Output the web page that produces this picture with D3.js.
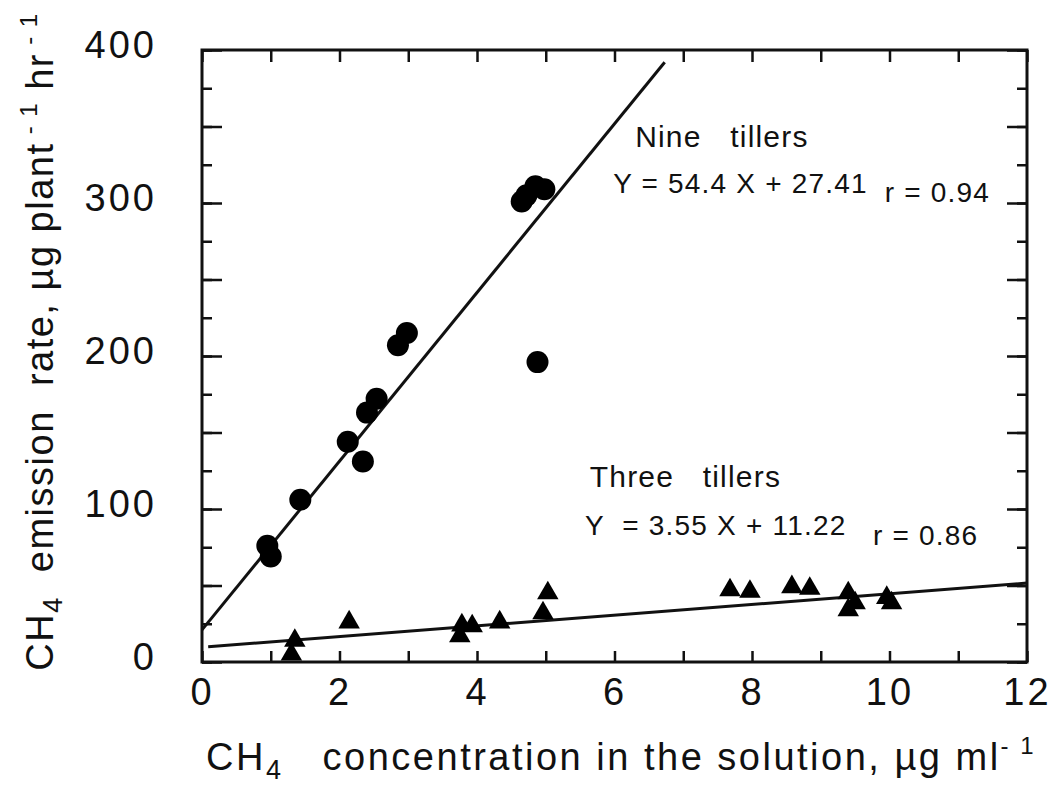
<!DOCTYPE html>
<html>
<head>
<meta charset="utf-8">
<script src="https://cdn.jsdelivr.net/npm/d3@7"></script>
<style>
  body { margin: 0; background: #fff; }
  text { font-family: "Liberation Sans", Arial, sans-serif; fill: #111; white-space: pre; }
</style>
</head>
<body>
<svg id="chart" width="1053" height="785"></svg>
<script>
// nine tillers (circles)
var nineX = [0.95, 1.0, 1.43, 2.12, 2.34, 2.40, 2.54, 2.85, 2.98, 4.65, 4.72, 4.85, 4.98, 4.88];
var nineY = [76, 69, 106, 144, 131, 163, 172, 207, 215, 301, 305, 311, 309, 196];
// three tillers (triangles)
var threeX = [1.30, 1.35, 2.14, 3.75, 3.78, 3.93, 4.33, 4.96, 5.03, 7.68, 7.97, 8.58, 8.84, 9.40, 9.50, 9.40, 9.96, 10.03];
var threeY = [5, 14, 26, 17, 24, 23.5, 26, 32, 45, 47, 46, 49, 48, 45, 38.5, 34, 42, 38.5];
// fitted lines, as drawn (end points)
var nineFit = [[0, 21], [6.73, 392]];
var threeFit = [[0.09, 10], [12, 51.6]];
// ticks
var xTicks = [0, 1, 2, 3, 4, 5, 6, 7, 8, 9, 10, 11, 12];
var xLabels = [0, 2, 4, 6, 8, 10, 12];
var yMinor = d3.range(0, 401, 25);
var yMajor = d3.range(0, 401, 50);
var yLabels = [0, 100, 200, 300, 400];

const svg = d3.select("#chart");
const margin = { top: 50, right: 26, bottom: 123, left: 202 };
const width = 1053, height = 785;

const x = d3.scaleLinear().domain([0, 12]).range([margin.left, width - margin.right]);
const y = d3.scaleLinear().domain([0, 400]).range([height - margin.bottom, margin.top]);

// axes (ticks inward)
function styleAxis(g) {
    g.select(".domain").remove();
    g.selectAll("line").attr("stroke", "#111").attr("stroke-width", 2.5);
    g.selectAll("text").attr("font-size", 38).attr("letter-spacing", 3)
        .attr("font-family", '"Liberation Sans", Arial, sans-serif').attr("fill", "#111");
}

svg.append("g").attr("transform", `translate(0,${y(0)})`)
    .call(d3.axisBottom(x).tickValues(xTicks).tickSizeInner(-11).tickSizeOuter(0).tickPadding(16)
        .tickFormat(d => xLabels.includes(d) ? d : ""))
    .call(styleAxis);

svg.append("g").attr("transform", `translate(0,${y(400)})`)
    .call(d3.axisTop(x).tickValues(xTicks).tickSizeInner(-12).tickSizeOuter(0).tickFormat(""))
    .call(styleAxis);

svg.append("g").attr("transform", `translate(${x(0)},0)`)
    .call(d3.axisLeft(y).tickValues(yMinor).tickSizeInner(-10).tickSizeOuter(0).tickFormat(""))
    .call(styleAxis);
svg.append("g").attr("transform", `translate(${x(0)},0)`)
    .call(d3.axisLeft(y).tickValues(yMajor).tickSizeInner(-20).tickSizeOuter(0).tickPadding(45)
        .tickFormat(d => yLabels.includes(d) ? d : ""))
    .call(styleAxis)
    .selectAll("text").attr("dy", "0.2em");

svg.append("g").attr("transform", `translate(${x(12)},0)`)
    .call(d3.axisRight(y).tickValues(yMinor).tickSizeInner(-10).tickSizeOuter(0).tickFormat(""))
    .call(styleAxis);
svg.append("g").attr("transform", `translate(${x(12)},0)`)
    .call(d3.axisRight(y).tickValues(yMajor).tickSizeInner(-20).tickSizeOuter(0).tickFormat(""))
    .call(styleAxis);

// frame
svg.append("rect")
    .attr("x", x(0)).attr("y", y(400))
    .attr("width", x(12) - x(0)).attr("height", y(0) - y(400))
    .attr("fill", "none").attr("stroke", "#111").attr("stroke-width", 3);

// fit lines
const line = d3.line().x(d => x(d[0])).y(d => y(d[1]));
svg.append("path").datum(nineFit).attr("d", line)
    .attr("fill", "none").attr("stroke", "#111").attr("stroke-width", 3);
svg.append("path").datum(threeFit).attr("d", line)
    .attr("fill", "none").attr("stroke", "#111").attr("stroke-width", 3);

// circles
svg.append("g").selectAll("circle")
    .data(nineX)
    .join("circle")
    .attr("cx", d => x(d))
    .attr("cy", (d, i) => y(nineY[i]))
    .attr("r", 11)
    .attr("fill", "#000");

// triangles
svg.append("g").selectAll("path")
    .data(threeX)
    .join("path")
    .attr("transform", (d, i) => `translate(${x(d)},${y(threeY[i])})`)
    .attr("d", d3.symbol(d3.symbolTriangle, 200))
    .attr("fill", "#000");

// annotations
function note(xv, yv, str, size) {
    return svg.append("text")
        .attr("x", x(xv)).attr("y", y(yv))
        .attr("font-size", size).attr("letter-spacing", 1.2)
        .text(str);
}
note(6.30, 336.6, "Nine   tillers", 30);
note(5.98, 306.5, "Y = 54.4 X + 27.41", 28);
note(9.93, 300.7, "r = 0.94", 28);
note(5.64, 114.4, "Three   tillers", 30);
note(5.57, 83, "Y  = 3.55 X + 11.22", 28);
note(9.76, 76.5, "r = 0.86", 28);

// y axis title
const yt = svg.append("text")
    .attr("transform", `translate(53,341.5) rotate(-90)`)
    .attr("text-anchor", "middle")
    .attr("font-size", 38).attr("letter-spacing", 1.5);
yt.append("tspan").text("CH");
yt.append("tspan").attr("font-size", 27).attr("dy", 9).text("4");
yt.append("tspan").attr("dy", -9).text("  emission  rate, µg plant");
yt.append("tspan").attr("font-size", 24).attr("dy", -16).text(" - 1");
yt.append("tspan").attr("dy", 16).text(" hr");
yt.append("tspan").attr("font-size", 24).attr("dy", -16).text(" - 1");

// x axis title
const xt = svg.append("text")
    .attr("x", 206).attr("y", 770)
    .attr("font-size", 38).attr("letter-spacing", 2.5);
xt.append("tspan").text("CH");
xt.append("tspan").attr("font-size", 27).attr("dy", 9).text("4");
xt.append("tspan").attr("dy", -9).text("   concentration in the solution, µg ml");
xt.append("tspan").attr("font-size", 24).attr("dy", -16).text("- 1");
</script>
</body>
</html>
